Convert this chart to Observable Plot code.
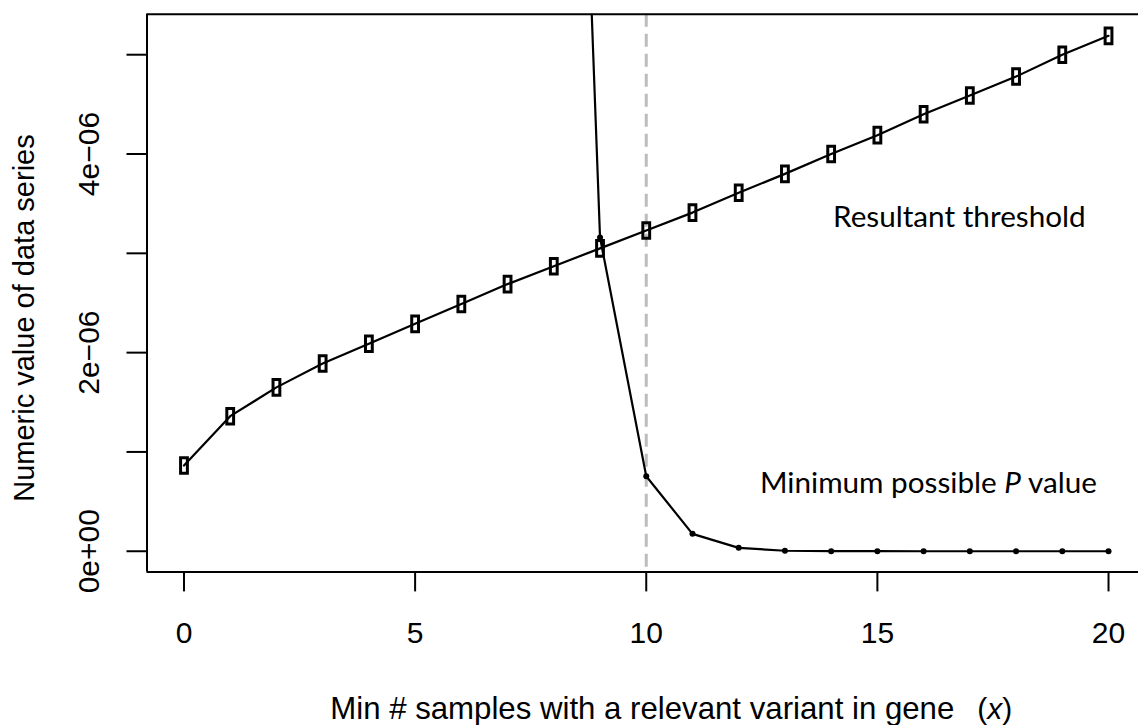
<!DOCTYPE html>
<html>
<head>
<meta charset="utf-8">
<script src="https://cdn.jsdelivr.net/npm/d3@7"></script>
<script src="https://cdn.jsdelivr.net/npm/@observablehq/plot@0.6"></script>
<style>
  html, body { margin: 0; padding: 0; background: #ffffff; }
  #chart { width: 1138px; height: 725px; overflow: hidden; }
</style>
</head>
<body>
<div id="chart"></div>
<script>
// ---- data ----
const xValues = [0, 1, 2, 3, 4, 5, 6, 7, 8, 9, 10, 11, 12, 13, 14, 15, 16, 17, 18, 19, 20];
const thresholdValues = [0.863e-6, 1.36e-6, 1.65e-6, 1.89e-6, 2.09e-6, 2.29e-6, 2.49e-6, 2.69e-6, 2.87e-6, 3.05e-6,
  3.23e-6, 3.41e-6, 3.61e-6, 3.80e-6, 4.00e-6, 4.19e-6, 4.40e-6, 4.59e-6, 4.78e-6, 5.00e-6, 5.19e-6];
const minPx = [8, 9, 10, 11, 12, 13, 14, 15, 16, 17, 18, 19, 20];
const minPValues = [15.7e-6, 3.16e-6, 0.755e-6, 0.175e-6, 0.034e-6, 0.005e-6, 0.001e-6, 0.0003e-6, 0.0001e-6, 0, 0, 0, 0];
const cutoffX = [10];
const xTicks = [0, 5, 10, 15, 20];
const yTicks = [0, 1e-6, 2e-6, 3e-6, 4e-6, 5e-6];
const yLabelTicks = [0, 2e-6, 4e-6];
const yLabelTexts = ["0e+00", "2e\u221206", "4e\u221206"];
const xTitle = "Min # samples with a relevant variant in gene";
const xTitleVar = "(x)";
const yTitle = "Numeric value of data series";
const thresholdLabel = "Resultant threshold";
const minPLabel = "Minimum possible P value";

const xDomain = [-0.8, 20.8];
const yDomain = [-0.208e-6, 5.408e-6];

const thresholdData = xValues.map((x, i) => ({x, y: thresholdValues[i]}));
const minPData = minPx.map((x, i) => ({x, y: minPValues[i]}));

// tall open rectangle symbol
const tallRect = { draw(context) { context.rect(-3.4, -7.8, 6.8, 15.6); } };

const rFont = "'Liberation Sans', Arial, Helvetica, sans-serif";
const noteFont = "Lato, 'Open Sans', sans-serif";

const chart = Plot.plot({
  width: 1138,
  height: 725,
  marginLeft: 146.5,
  marginRight: -7,
  marginTop: 13.7,
  marginBottom: 153.6,
  x: {domain: xDomain},
  y: {domain: yDomain},
  style: {fontFamily: rFont, background: "#ffffff", color: "#000000"},
  marks: [
    Plot.ruleX(cutoffX, {stroke: "#bdbdbd", strokeWidth: 3, strokeDasharray: "13,7"}),
    Plot.line(thresholdData, {x: "x", y: "y", stroke: "#000", strokeWidth: 2.2}),
    Plot.dot(thresholdData, {x: "x", y: "y", symbol: tallRect, stroke: "#000", strokeWidth: 3, fill: "none"}),
    Plot.line(minPData, {x: "x", y: "y", stroke: "#000", strokeWidth: 2.2, clip: true}),
    Plot.dot(minPData, {x: "x", y: "y", r: 3, fill: "#000", stroke: "none", clip: true}),
    // box (right side lies outside the picture)
    Plot.ruleY([yDomain[0]], {stroke: "#000", strokeWidth: 2}),
    Plot.ruleY([yDomain[1]], {stroke: "#000", strokeWidth: 2}),
    Plot.ruleX([xDomain[0]], {stroke: "#000", strokeWidth: 2}),
    // axes
    Plot.axisX(xTicks, {tickSize: 20, tickPadding: 30, fontSize: 30, strokeWidth: 2, label: null, tickFormat: d => String(d)}),
    Plot.axisY(yTicks, {tickSize: 20, strokeWidth: 2, label: null, tickFormat: () => ""}),
    Plot.text(yLabelTicks, {x: xDomain[0], y: d => d, text: (d, i) => yLabelTexts[i], rotate: -90, dx: -57.5,
      fontSize: 30, textAnchor: "middle", lineAnchor: "middle"}),
    // axis titles
    Plot.text([yTitle], {frameAnchor: "left", rotate: -90, dx: -122.5, dy: 25, fontSize: 29, textAnchor: "middle", lineAnchor: "middle"}),
    Plot.text([xTitle], {frameAnchor: "bottom", dx: -4, dy: 137.3, fontSize: 31.2, textAnchor: "middle", lineAnchor: "middle"}),
    Plot.text([xTitleVar], {frameAnchor: "bottom", dx: 331, dy: 137.3, fontSize: 30, textAnchor: "start", lineAnchor: "middle"}),
    // annotations
    Plot.text([thresholdLabel], {x: 14.04, y: 3.36e-6, fontSize: 29.7, fontFamily: noteFont, textAnchor: "start", lineAnchor: "middle"}),
    Plot.text([minPLabel], {x: 12.46, y: 0.68e-6, fontSize: 29.7, fontFamily: noteFont, textAnchor: "start", lineAnchor: "middle"})
  ]
});

document.getElementById("chart").appendChild(chart);

// italic parts of labels
const svg = d3.select(chart);
svg.selectAll("text").each(function() {
  const t = d3.select(this);
  const s = t.text();
  if (s === xTitleVar) {
    t.text("");
    t.append("tspan").text("(");
    t.append("tspan").attr("font-style", "italic").text("x");
    t.append("tspan").text(")");
  } else if (s === minPLabel) {
    t.text("");
    t.append("tspan").text("Minimum possible ");
    t.append("tspan").attr("font-style", "italic").text("P");
    t.append("tspan").text(" value");
  }
});
</script>
</body>
</html>
